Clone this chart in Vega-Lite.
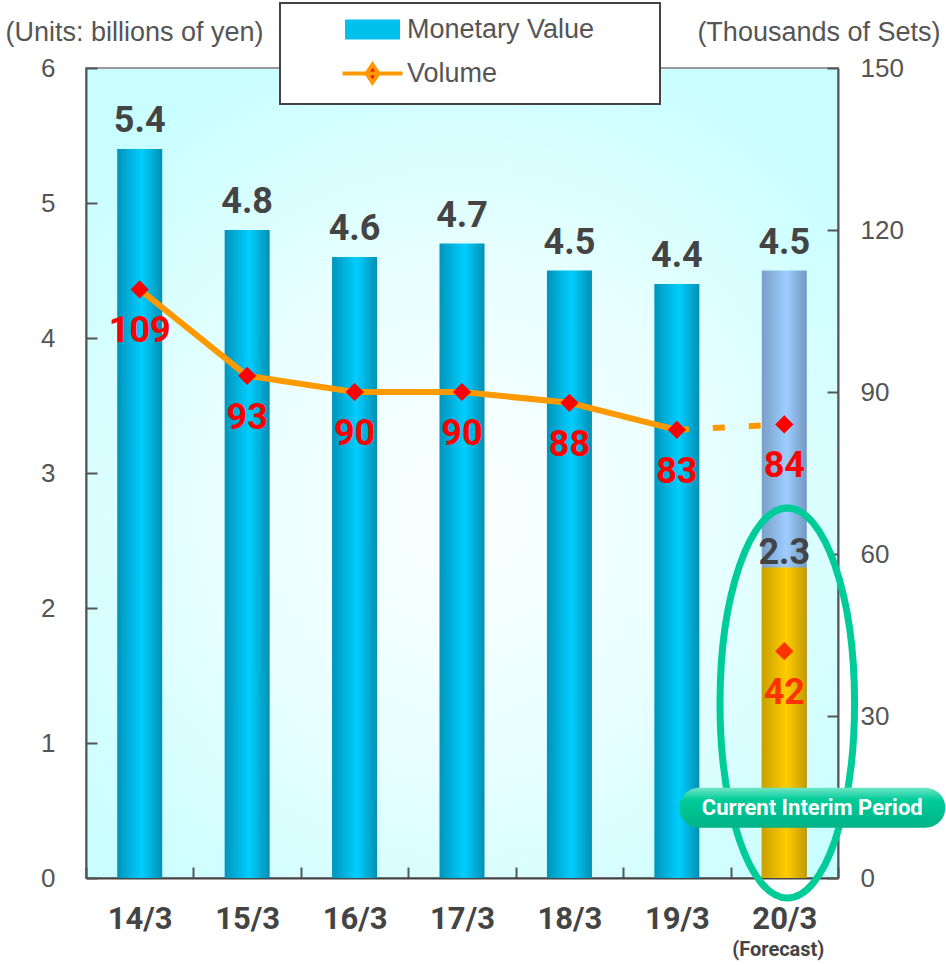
{
  "$schema": "https://vega.github.io/schema/vega-lite/v6.json",
  "width": 752,
  "height": 810,
  "autosize": {"type": "none"},
  "padding": {"left": 86, "top": 68, "right": 108, "bottom": 87},
  "background": "white",
  "config": {
    "font": "Liberation Sans",
    "view": {
      "fill": {"gradient": "radial", "x1": 0.5, "y1": 0.55, "r1": 0, "x2": 0.5, "y2": 0.55, "r2": 0.62,
        "stops": [{"offset": 0, "color": "#fbffff"}, {"offset": 0.45, "color": "#ebffff"}, {"offset": 1, "color": "#c8feff"}]},
      "stroke": "#999999",
      "strokeWidth": 2
    },
    "axis": {
      "domainColor": "#555555", "domainWidth": 2,
      "tickColor": "#555555", "tickWidth": 2, "tickSize": -11,
      "grid": false,
      "labelFont": "Liberation Sans", "labelFontSize": 26, "labelColor": "#555555",
      "titleFont": "Liberation Sans", "titleFontSize": 27, "titleColor": "#555555", "titleFontWeight": "normal"
    }
  },
  "datasets": {
    "money": [
      {"year": "14/3", "value": 5.4, "kind": "actual"},
      {"year": "15/3", "value": 4.8, "kind": "actual"},
      {"year": "16/3", "value": 4.6, "kind": "actual"},
      {"year": "17/3", "value": 4.7, "kind": "actual"},
      {"year": "18/3", "value": 4.5, "kind": "actual"},
      {"year": "19/3", "value": 4.4, "kind": "actual"},
      {"year": "20/3", "value": 4.5, "kind": "forecast"},
      {"year": "20/3", "value": 2.3, "kind": "interim"}
    ],
    "volume": [
      {"year": "14/3", "volume": 109, "kind": "actual"},
      {"year": "15/3", "volume": 93, "kind": "actual"},
      {"year": "16/3", "volume": 90, "kind": "actual"},
      {"year": "17/3", "volume": 90, "kind": "actual"},
      {"year": "18/3", "volume": 88, "kind": "actual"},
      {"year": "19/3", "volume": 83, "kind": "actual"},
      {"year": "20/3", "volume": 84, "kind": "forecast"},
      {"year": "20/3", "volume": 42, "kind": "interim"}
    ],
    "legend": [
      {"year": "14/3", "series": "Monetary Value"},
      {"year": "14/3", "series": "Volume"}
    ],
    "notes": [
      {"year": "20/3", "label": "Current Interim Period", "forecast": "(Forecast)"}
    ]
  },
  "layer": [
    {
      "layer": [
        {
          "data": {"name": "money"},
          "transform": [{"filter": "datum.kind === 'actual'"}],
          "mark": {"type": "bar", "size": 45,
            "color": {"gradient": "linear", "x1": 0, "y1": 0, "x2": 1, "y2": 0,
              "stops": [{"offset": 0, "color": "#0094ba"}, {"offset": 0.55, "color": "#00ceff"}, {"offset": 1, "color": "#008fb2"}]}},
          "encoding": {
            "x": {"field": "year", "type": "nominal",
              "scale": {"domain": ["14/3", "15/3", "16/3", "17/3", "18/3", "19/3", "20/3"], "paddingInner": 0, "paddingOuter": 0},
              "axis": {"title": null, "labelAngle": 0, "tickBand": "extent", "domainColor": "#444444",
                "labelFont": "Roboto", "labelFontWeight": "bold", "labelFontSize": 31, "labelColor": "#444444",
                "labelBaseline": "top", "labelPadding": 37}},
            "y": {"field": "value", "type": "quantitative",
              "scale": {"domain": [0, 6], "nice": false},
              "axis": {"title": "(Units: billions of yen)", "titleAngle": 0, "titleAlign": "left", "titleBaseline": "middle",
                "titleX": -81, "titleY": -36, "values": [0, 1, 2, 3, 4, 5, 6], "format": "d", "labelPadding": 42}}
          }
        },
        {
          "data": {"name": "money"},
          "transform": [{"filter": "datum.kind === 'forecast'"}],
          "mark": {"type": "bar", "size": 45,
            "color": {"gradient": "linear", "x1": 0, "y1": 0, "x2": 1, "y2": 0,
              "stops": [{"offset": 0, "color": "#7a9ec9"}, {"offset": 0.55, "color": "#9dcdff"}, {"offset": 1, "color": "#7397c2"}]}},
          "encoding": {
            "x": {"field": "year", "type": "nominal"},
            "y": {"field": "value", "type": "quantitative", "scale": {"domain": [0, 6], "nice": false}}
          }
        },
        {
          "data": {"name": "money"},
          "transform": [{"filter": "datum.kind === 'interim'"}],
          "mark": {"type": "bar", "size": 45,
            "color": {"gradient": "linear", "x1": 0, "y1": 0, "x2": 1, "y2": 0,
              "stops": [{"offset": 0, "color": "#c9a000"}, {"offset": 0.55, "color": "#ffcc00"}, {"offset": 1, "color": "#c29a00"}]}},
          "encoding": {
            "x": {"field": "year", "type": "nominal"},
            "y": {"field": "value", "type": "quantitative", "scale": {"domain": [0, 6], "nice": false}}
          }
        },
        {
          "data": {"name": "money"},
          "transform": [{"filter": "datum.kind !== 'interim'"}],
          "mark": {"type": "text", "font": "Roboto", "fontWeight": "bold", "fontSize": 36, "color": "#444444",
            "baseline": "alphabetic", "dy": -17},
          "encoding": {
            "x": {"field": "year", "type": "nominal"},
            "y": {"field": "value", "type": "quantitative", "scale": {"domain": [0, 6], "nice": false}},
            "text": {"field": "value", "type": "quantitative", "format": ".1f"}
          }
        },
        {
          "data": {"name": "money"},
          "transform": [{"filter": "datum.kind === 'interim'"}],
          "mark": {"type": "text", "font": "Roboto", "fontWeight": "bold", "fontSize": 36, "color": "#444444",
            "baseline": "alphabetic", "dy": -4},
          "encoding": {
            "x": {"field": "year", "type": "nominal"},
            "y": {"field": "value", "type": "quantitative", "scale": {"domain": [0, 6], "nice": false}},
            "text": {"field": "value", "type": "quantitative", "format": ".1f"}
          }
        },
        {
          "data": {"name": "notes"},
          "mark": {"type": "point", "filled": false, "stroke": "#00cc99", "strokeWidth": 7, "opacity": 1, "size": 152100, "xOffset": 3,
            "shape": "M-0.345,0A0.345,1,0,1,0,0.345,0A0.345,1,0,1,0,-0.345,0Z"},
          "encoding": {
            "x": {"field": "year", "type": "nominal"},
            "y": {"datum": 1.296, "type": "quantitative", "scale": {"domain": [0, 6], "nice": false}}
          }
        },
        {
          "data": {"name": "notes"},
          "mark": {"type": "point", "filled": true, "opacity": 1, "size": 70756, "xOffset": 28, "strokeWidth": 0,
            "shape": "M-0.85,-0.15L0.85,-0.15A0.15,0.15,0,0,1,0.85,0.15L-0.85,0.15A0.15,0.15,0,0,1,-0.85,-0.15Z",
            "color": {"gradient": "linear", "x1": 0, "y1": 0, "x2": 0, "y2": 1,
              "stops": [{"offset": 0, "color": "#6fe6c6"}, {"offset": 0.3, "color": "#00cc99"}, {"offset": 1, "color": "#00b386"}]}},
          "encoding": {
            "x": {"field": "year", "type": "nominal"},
            "y": {"datum": 0.52, "type": "quantitative", "scale": {"domain": [0, 6], "nice": false}}
          }
        },
        {
          "data": {"name": "notes"},
          "mark": {"type": "text", "font": "Roboto", "fontWeight": "bold", "fontSize": 22, "color": "white",
            "baseline": "middle", "align": "center", "xOffset": 28},
          "encoding": {
            "x": {"field": "year", "type": "nominal"},
            "y": {"datum": 0.52, "type": "quantitative", "scale": {"domain": [0, 6], "nice": false}},
            "text": {"field": "label"}
          }
        },
        {
          "data": {"name": "notes"},
          "mark": {"type": "text", "font": "Roboto", "fontWeight": "bold", "fontSize": 20, "color": "#444444",
            "baseline": "middle", "align": "center", "yOffset": 72, "xOffset": -6},
          "encoding": {
            "x": {"field": "year", "type": "nominal"},
            "y": {"datum": 0, "type": "quantitative", "scale": {"domain": [0, 6], "nice": false}},
            "text": {"field": "forecast"}
          }
        },
        {
          "data": {"name": "legend"},
          "mark": {"type": "point", "opacity": 0, "filled": true},
          "encoding": {
            "x": {"field": "year", "type": "nominal"},
            "y": {"datum": 0, "type": "quantitative", "scale": {"domain": [0, 6], "nice": false}},
            "color": {"field": "series", "type": "nominal",
              "scale": {"domain": ["Monetary Value", "Volume"], "range": ["#00c0ec", "#ff0000"]},
              "legend": {
                "title": null, "orient": "none", "legendX": 194, "legendY": -65, "direction": "vertical",
                "fillColor": "white", "strokeColor": "#444444", "padding": 13,
                "symbolSize": 400, "symbolOpacity": 1, "symbolOffset": 66, "labelOffset": 21,
                "labelFont": "Liberation Sans", "labelFontSize": 27, "labelColor": "#555555", "labelLimit": 400,
                "rowPadding": 8,
                "encode": {
                  "legend": {"update": {"strokeWidth": {"value": 2}}},
                  "labels": {"update": {"text": {"signal": "datum.label + '\u00a0\u00a0\u00a0\u00a0\u00a0\u00a0\u00a0\u200b'"}}},
                  "symbols": {"update": {
                    "shape": {"signal": "datum.value === 'Volume' ? 'M-3,0L3,0M0,-0.9L0.6,0L0,0.9L-0.6,0Z' : 'M-2.75,-1L2.75,-1L2.75,1L-2.75,1Z'"},
                    "stroke": {"signal": "datum.value === 'Volume' ? '#ff9900' : 'transparent'"},
                    "strokeWidth": {"value": 4},
                    "opacity": {"value": 1}
                  }}
                }
              }}
          }
        }
      ]
    },
    {
      "layer": [
        {
          "data": {"name": "volume"},
          "transform": [{"filter": "datum.kind === 'actual'"}],
          "mark": {"type": "line", "color": "#ff9900", "strokeWidth": 6},
          "encoding": {
            "x": {"field": "year", "type": "nominal"},
            "y": {"field": "volume", "type": "quantitative",
              "scale": {"domain": [0, 150], "nice": false},
              "axis": {"orient": "right", "title": "(Thousands of Sets)", "titleAngle": 0, "titleAlign": "right", "titleBaseline": "middle",
                "titleX": 102, "titleY": -36, "values": [0, 30, 60, 90, 120, 150], "labelPadding": 33}}
          }
        },
        {
          "data": {"name": "volume"},
          "transform": [{"filter": "(datum.year === '19/3' || datum.year === '20/3') && datum.kind !== 'interim'"}],
          "mark": {"type": "line", "color": "#ff9900", "strokeWidth": 6, "strokeDash": [12, 24]},
          "encoding": {
            "x": {"field": "year", "type": "nominal"},
            "y": {"field": "volume", "type": "quantitative", "scale": {"domain": [0, 150], "nice": false}}
          }
        },
        {
          "data": {"name": "volume"},
          "mark": {"type": "point", "shape": "diamond", "filled": true, "size": 330, "opacity": 1},
          "encoding": {
            "x": {"field": "year", "type": "nominal"},
            "y": {"field": "volume", "type": "quantitative", "scale": {"domain": [0, 150], "nice": false}},
            "color": {"condition": {"test": "datum.kind === 'interim'", "value": "#ff3300"}, "value": "#ff0000"}
          }
        },
        {
          "data": {"name": "volume"},
          "mark": {"type": "text", "font": "Roboto", "fontWeight": "bold", "fontSize": 36, "baseline": "alphabetic", "dy": 53},
          "encoding": {
            "x": {"field": "year", "type": "nominal"},
            "y": {"field": "volume", "type": "quantitative", "scale": {"domain": [0, 150], "nice": false}},
            "text": {"field": "volume", "type": "quantitative"},
            "color": {"condition": {"test": "datum.kind === 'interim'", "value": "#ff3300"}, "value": "#ff0000"}
          }
        }
      ]
    }
  ],
  "resolve": {"scale": {"y": "independent"}}
}
